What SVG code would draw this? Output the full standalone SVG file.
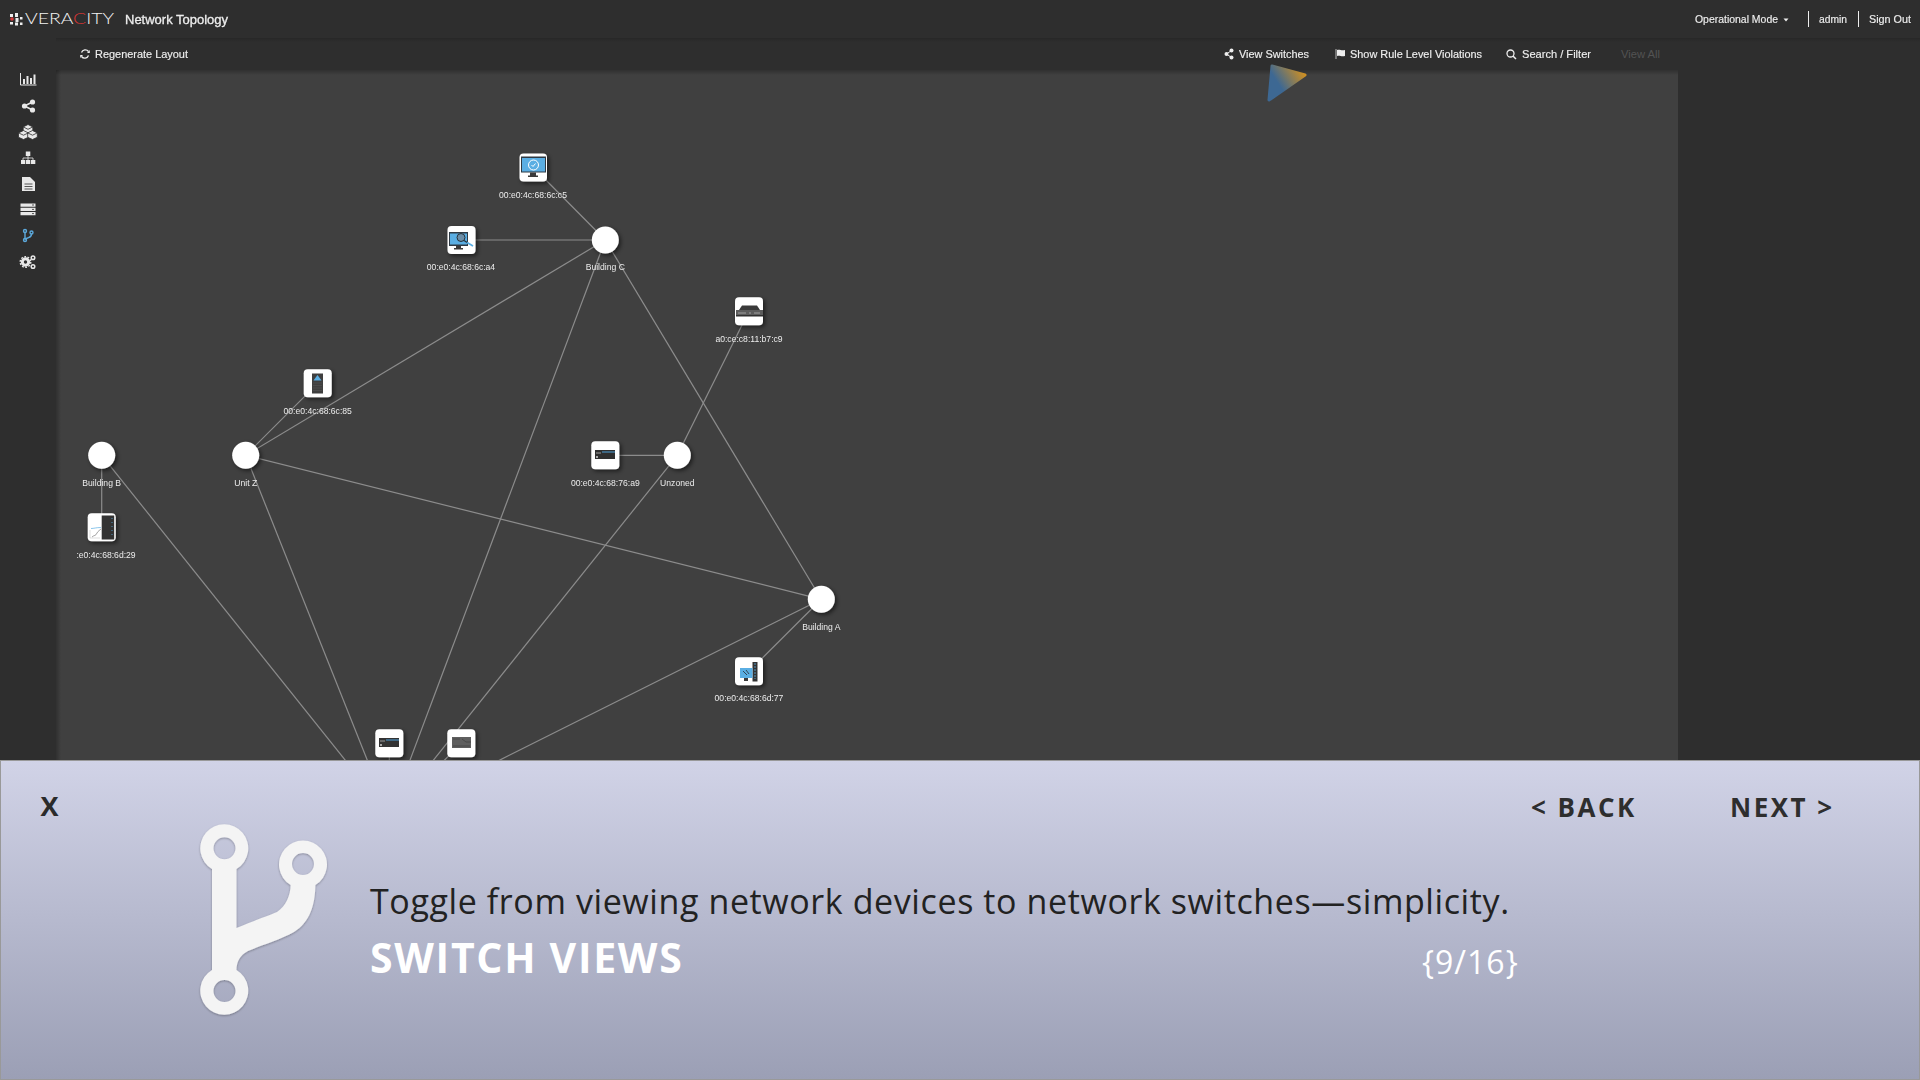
<svg xmlns="http://www.w3.org/2000/svg" width="1920" height="1080" viewBox="0 0 1920 1080">
<style>
.ui{font-family:"Liberation Sans",Arial,sans-serif;fill:#eeeeee;font-size:11px;stroke:#eeeeee;stroke-width:.15;filter:url(#soft)}
.lab{font-family:"Liberation Sans",Arial,sans-serif;fill:#ececec;font-size:8.6px;text-anchor:middle;filter:url(#soft)}
.os{font-family:"Open Sans",sans-serif}
.lk{stroke:#8c8c8c;stroke-width:1.2;fill:none}
.hub{fill:#fff;filter:url(#sh)}
.box{fill:#fff;filter:url(#sh)}
.ic{fill:#e8e8e8}
.dk{fill:#3a3a3a}
.bl{fill:#5aaee3}
</style>
<defs>
<linearGradient id="pg" x1="0" y1="0" x2="0" y2="1"><stop offset="0" stop-color="#d1d3e7"/><stop offset="1" stop-color="#9b9fb5"/></linearGradient>
<linearGradient id="tri" x1="1" y1="0.1" x2="0.2" y2="0.6"><stop offset="0" stop-color="#dc9318"/><stop offset="0.9" stop-color="#3d6893"/></linearGradient>
<linearGradient id="shd" x1="0" y1="0" x2="0" y2="1"><stop offset="0" stop-color="#000" stop-opacity=".25"/><stop offset="1" stop-color="#000" stop-opacity="0"/></linearGradient>
<linearGradient id="shr" x1="0" y1="0" x2="1" y2="0"><stop offset="0" stop-color="#000" stop-opacity=".25"/><stop offset="1" stop-color="#000" stop-opacity="0"/></linearGradient>
<filter id="sh" x="-40%" y="-40%" width="190%" height="190%"><feDropShadow dx="2" dy="2" stdDeviation="2.2" flood-color="#000" flood-opacity=".55"/></filter>
<filter id="sf" x="-10%" y="-10%" width="120%" height="120%"><feDropShadow dx="0" dy="1" stdDeviation="1" flood-color="#000" flood-opacity=".3"/></filter>
<filter id="soft" x="-5%" y="-20%" width="110%" height="140%"><feGaussianBlur stdDeviation=".3"/></filter>
<clipPath id="cv"><rect x="0" y="0" width="1920" height="760"/></clipPath>
</defs>

<rect width="1920" height="1080" fill="#2e2e2e"/>
<rect id="canvas" x="56" y="70" width="1622" height="700" fill="#404040"/>
<rect x="56" y="70" width="5" height="700" fill="url(#shr)"/>
<rect x="56" y="70" width="1622" height="5" fill="url(#shd)"/>
<rect x="56" y="38" width="1864" height="4" fill="url(#shd)" opacity=".6"/>

<g id="topbar">
<g id="logo" fill="#eee">
<rect x="10" y="14" width="3" height="3"/><rect x="15" y="13" width="3" height="4"/><rect x="20" y="17" width="2.5" height="2.5"/>
<circle cx="12" cy="19" r="1.8" fill="#d63a3a"/><rect x="15.5" y="18" width="3" height="4"/><rect x="10" y="22" width="3" height="2.5"/><rect x="15" y="22.5" width="3" height="3"/><rect x="20" y="22.5" width="2.5" height="2.5"/>
</g>
<text x="25" y="24" textLength="89" lengthAdjust="spacingAndGlyphs" style="font-family:Lato,sans-serif;font-weight:300;font-size:16px;fill:#f2f2f2">VERA<tspan fill="#d93535">C</tspan>ITY</text>
<text class="ui" x="125" y="24" textLength="103" lengthAdjust="spacingAndGlyphs" style="font-size:13px;stroke-width:.3">Network Topology</text>
<text class="ui" x="1695" y="23" textLength="83" lengthAdjust="spacingAndGlyphs">Operational Mode</text>
<path d="M1783.500 18.500h5l-2.500 3z" fill="#eee"/>
<path d="M1808.500 11v16M1858.500 11v16" stroke="#eee" stroke-width="1"/>
<text class="ui" x="1819" y="23" textLength="28" lengthAdjust="spacingAndGlyphs">admin</text>
<text class="ui" x="1869" y="23" textLength="42" lengthAdjust="spacingAndGlyphs">Sign Out</text>
</g>

<g id="toolbar">
<path d="M88.500 51.500a4 4 0 0 0-7 1M81.500 56.500a4 4 0 0 0 7-1" fill="none" stroke="#eee" stroke-width="1.300"/>
<path d="M87 53h2.800v-3zM83 55h-2.800v3z" fill="#eee"/>
<text class="ui" x="95" y="58" textLength="93" lengthAdjust="spacingAndGlyphs">Regenerate Layout</text>
<g fill="#eee"><circle cx="1231.500" cy="50.500" r="2"/><circle cx="1231.500" cy="57.500" r="2"/><circle cx="1226.500" cy="54" r="2"/><path d="M1226.500 54L1231.500 50.500M1226.500 54L1231.500 57.500" stroke="#eee"/></g>
<text class="ui" x="1239" y="58" textLength="70" lengthAdjust="spacingAndGlyphs">View Switches</text>
<path d="M1336 49v10" stroke="#bbb" stroke-width="1"/><path d="M1337 50c3-1 4 1 8 0v6c-4 1-5-1-8 0z" fill="#eee"/>
<text class="ui" x="1350" y="58" textLength="132" lengthAdjust="spacingAndGlyphs">Show Rule Level Violations</text>
<circle cx="1510.500" cy="53.500" r="3.500" fill="none" stroke="#eee" stroke-width="1.300"/><path d="M1513 56l3 3" stroke="#eee" stroke-width="1.500"/>
<text class="ui" x="1522" y="58" textLength="69" lengthAdjust="spacingAndGlyphs">Search / Filter</text>
<text x="1621" y="58" textLength="39" lengthAdjust="spacingAndGlyphs" style="font-family:'Liberation Sans',Arial,sans-serif;font-size:11px;fill:#535353">View All</text>
</g>

<g id="sidebar">
<path d="M20.500 73v12h16" fill="none" stroke="#e8e8e8" stroke-width="1"/>
<path class="ic" d="M23 79h2v5h-2zM26.500 76h2v8h-2zM30 78h2v6h-2zM33.500 74.500h2v9.500h-2z"/>
<g class="ic"><circle cx="32.500" cy="102" r="2.600"/><circle cx="32.500" cy="110" r="2.600"/><circle cx="24.500" cy="106" r="2.600"/><path d="M24.500 106L32.500 102M24.500 106L32.500 110" stroke="#e8e8e8" stroke-width="1.500"/></g>
<g fill="#e8e8e8" stroke="#2e2e2e" stroke-width=".8"><path d="M28 124.500l4.800 2.400v4.600L28 134l-4.800-2.500v-4.600z"/><path d="M23.500 130.500l4.800 2.400v4.400l-4.800 2.200-5-2.200v-4.400z"/><path d="M32.500 130.500l4.800 2.400v4.400l-4.800 2.200-4.800-2.200v-4.400z"/><path d="M23.200 126.900L28 129.300l4.800-2.400M18.500 132.900l5 2.300 4.800-2.300M27.700 132.900l4.800 2.300 4.800-2.300" fill="none"/></g>
<path class="ic" d="M25.800 151.500h4.500v4.500h-4.500zM21 164h4.300v-4h-4.300zM26 164h4.300v-4H26zM31 164h4.300v-4H31z"/>
<path d="M23 160v-2h10v2M28 156v4" stroke="#e8e8e8" fill="none" stroke-width=".8"/>
<path class="ic" d="M22 177h8l5 5v9H22z"/><path d="M24.500 184h8M24.500 186.500h8M24.500 189h8" stroke="#2e2e2e" stroke-width=".8"/>
<path class="ic" d="M20.500 203.500h15v3.200h-15zM20.500 207.800h15v3.200h-15zM20.500 212h15v3.200h-15z"/><path d="M32 205h2M32 209.400h2M32 213.600h2" stroke="#2e2e2e" stroke-width=".8"/>
<g id="nav-branch" fill="none" stroke="#5ca9dc" stroke-width="1.400"><circle cx="25" cy="231" r="1.500"/><circle cx="31.500" cy="232.500" r="1.500"/><circle cx="25" cy="240" r="1.500"/><path d="M25 232.500v6M31.500 234c0 2.500-1 3-3 3.700-2 .7-3.500 1-3.500 2"/></g>
<g fill="none" stroke="#e8e8e8"><circle cx="25.500" cy="262" r="3.200" stroke-width="3"/><circle cx="25.500" cy="262" r="5.300" stroke-width="1.400" stroke-dasharray="1.800 1.500"/><circle cx="33" cy="257.800" r="1.800" stroke-width="1.500"/><circle cx="33" cy="266.500" r="1.800" stroke-width="1.500"/></g>
</g>

<polygon id="pointer" points="1272,66 1305,75 1269,100" fill="url(#tri)" stroke="url(#tri)" stroke-width="3" stroke-linejoin="round"/>

<g id="connectors" class="lk" clip-path="url(#cv)">
<line x1="605.300" y1="240" x2="533" y2="167"/>
<line x1="605.300" y1="240" x2="461" y2="240"/>
<line x1="605.300" y1="240" x2="245.700" y2="455.300"/>
<line x1="605.300" y1="240" x2="821.300" y2="599.300"/>
<line x1="605.300" y1="240" x2="389.300" y2="815.300"/>
<line x1="245.700" y1="455.300" x2="317.700" y2="383.300"/>
<line x1="245.700" y1="455.300" x2="821.300" y2="599.300"/>
<line x1="245.700" y1="455.300" x2="389.300" y2="815.300"/>
<line x1="101.700" y1="455.300" x2="101.700" y2="527.300"/>
<line x1="101.700" y1="455.300" x2="389.300" y2="815.300"/>
<line x1="677.300" y1="455.300" x2="605.300" y2="455.300"/>
<line x1="677.300" y1="455.300" x2="749" y2="311"/>
<line x1="677.300" y1="455.300" x2="389.300" y2="815.300"/>
<line x1="821.300" y1="599.300" x2="749" y2="671.300"/>
<line x1="821.300" y1="599.300" x2="389.300" y2="815.300"/>
<line x1="389.300" y1="743.300" x2="389.300" y2="815.300"/>
<line x1="461.300" y1="743.300" x2="389.300" y2="815.300"/>
</g>

<g id="node-c5"><rect class="box" x="519.500" y="153.500" width="27.500" height="28" rx="4"/>
<rect x="521" y="156.500" width="25" height="16" fill="#2f3a44"/><rect x="522" y="158" width="23" height="13.500" class="bl"/>
<path class="dk" d="M530 172.500h6v3h2v1.500h-10v-1.500h2z"/><circle cx="533.500" cy="165" r="5" fill="none" stroke="#fff" stroke-width="1"/><path d="M531.500 165l1.500 1.500 2.500-3" fill="none" stroke="#fff" stroke-width="1"/>
<text class="lab" x="533" y="197.500">00:e0:4c:68:6c:c5</text></g>

<g id="node-a4"><rect class="box" x="447.500" y="226" width="28" height="28" rx="4"/>
<rect x="449" y="232" width="19" height="14" fill="#2f3a44"/><rect x="450" y="233.500" width="17" height="11" class="bl"/><path class="dk" d="M456 246h5v2h2v1.500h-9V248h2z"/>
<circle cx="461" cy="237.500" r="4" fill="#6b8ea8" stroke="#263038"/><path d="M464 240.500l4 2.500" stroke="#263038" stroke-width="1.200"/><path d="M467 242.500l6 3.500" stroke="#5aaee3" stroke-width="1.800"/>
<text class="lab" x="461" y="270">00:e0:4c:68:6c:a4</text></g>

<g id="node-c9"><rect class="box" x="735" y="297.300" width="28" height="28" rx="4"/>
<path class="dk" d="M739 310l3-4.500h15l3 4.500z"/><rect x="736" y="310" width="27" height="6" fill="#5c5c5c"/><path d="M738 313h8M749 313h2M754 313h6" stroke="#bbb" stroke-width=".7"/><rect x="736" y="315" width="27" height="1.500" fill="#2f2f2f"/>
<text class="lab" x="749" y="341.500">a0:ce:c8:11:b7:c9</text></g>

<g id="node-85"><rect class="box" x="303.700" y="369.300" width="28" height="28" rx="4"/>
<rect x="312" y="373.500" width="11" height="20" fill="#3f3f3f"/><path d="M317.500 375l4 5.500h-8z" class="bl"/><path d="M313 383h9M313 385.500h9M313 388h9M313 390.500h9" stroke="#555" stroke-width=".6"/>
<text class="lab" x="317.700" y="413.700">00:e0:4c:68:6c:85</text></g>

<g id="node-29"><rect class="box" x="87.700" y="513.300" width="28" height="28" rx="4"/>
<rect x="101.700" y="515.500" width="12.500" height="24" fill="#333"/><path d="M90 538h10M90 530v8" stroke="#bbb" stroke-width=".5"/><path d="M91 528.500c3 0 5-1 10-1" stroke="#5aaee3" fill="none" stroke-width=".7"/><path d="M92 537c2-2 4-1 5-4 1-2 3-3 4-4" stroke="#666" fill="none" stroke-width=".6"/><path d="M112 518v1M112 522v1M112 526v1M112 530v1M112 534v1" stroke="#5aaee3" stroke-width=".8"/>
<text class="lab" x="106" y="557.700">:e0:4c:68:6d:29</text></g>

<g id="node-a9"><rect class="box" x="591.300" y="441.300" width="28" height="28" rx="4"/>
<rect x="595" y="450" width="20" height="9" fill="#2f2f2f"/><path d="M602 452h13" stroke="#4fa0d8"/><rect x="596" y="452" width="5" height="2" fill="#666"/><rect x="596" y="456" width="2" height="2" fill="#aaa"/>
<text class="lab" x="605.300" y="485.700">00:e0:4c:68:76:a9</text></g>

<g id="node-77"><rect class="box" x="735" y="657.300" width="28" height="28" rx="4"/>
<path d="M752.500 662h5v19.500h-5z" fill="#333"/><path d="M755 663v16" stroke="#5aaee3" stroke-width=".8" stroke-dasharray="2 1"/><rect x="740" y="668" width="12.500" height="10" class="bl"/><path d="M743 671l4 4M746 670l3 4" stroke="#2f3a44" stroke-width=".9"/><rect x="744" y="678" width="4" height="3" fill="#3a3a3a"/>
<text class="lab" x="749" y="701">00:e0:4c:68:6d:77</text></g>

<g id="node-sw1"><rect class="box" x="375.300" y="729.300" width="28" height="28" rx="4"/>
<rect x="379" y="738" width="20" height="9" fill="#333"/><path d="M386 740h13" stroke="#4fa0d8"/><rect x="380" y="740" width="5" height="2" fill="#666"/><rect x="380" y="744" width="2" height="2" fill="#aaa"/></g>

<g id="node-sw2"><rect class="box" x="447.300" y="729.300" width="28" height="28" rx="4"/>
<rect x="452" y="737" width="19" height="11" fill="#5f5f5f"/><path d="M453 739h7M462 739l4 3h5M453 746h17" stroke="#404040" fill="none" stroke-width=".7"/></g>

<g id="node-building-c"><circle class="hub" cx="605.300" cy="240" r="13.500"/><text class="lab" x="605.300" y="270">Building C</text></g>
<g id="node-unit-z"><circle class="hub" cx="245.700" cy="455.300" r="13.500"/><text class="lab" x="245.700" y="486">Unit Z</text></g>
<g id="node-building-b"><circle class="hub" cx="101.700" cy="455.300" r="13.500"/><text class="lab" x="101.700" y="486">Building B</text></g>
<g id="node-unzoned"><circle class="hub" cx="677.300" cy="455.300" r="13.500"/><text class="lab" x="677.300" y="485.700">Unzoned</text></g>
<g id="node-building-a"><circle class="hub" cx="821.300" cy="599.300" r="13.500"/><text class="lab" x="821.300" y="630">Building A</text></g>

<g id="panel">
<rect x="0.500" y="760.500" width="1919" height="319" fill="url(#pg)" stroke="#999" stroke-width="1"/>
<text class="os" x="49.500" y="816" text-anchor="middle" style="font-size:27px;font-weight:700;fill:#2b2b2b">X</text>
<g id="branch-icon" filter="url(#sf)" fill="#f4f4f4" fill-rule="evenodd">
<path d="M212 869A24 24 0 1 1 236.500 869V928C250 922 268 916 277 912 286 906 290.600 895 290.600 885A24 24 0 1 1 315.400 885C315 905 310 922 294 932 282 939 262 945 248 951 240 955 236.500 962 236.500 970A24 24 0 1 1 212 970ZM224.500 837.300A11 11 0 1 0 224.501 859.300 11 11 0 0 0 224.500 837.300ZM303 853A11 11 0 1 0 303.001 875 11 11 0 0 0 303 853ZM224.500 980A11 11 0 1 0 224.501 1002 11 11 0 0 0 224.500 980Z"/>
</g>
<text class="os" x="370" y="914" style="font-size:34px;fill:#222;letter-spacing:.6px">Toggle from viewing network devices to network switches—simplicity.</text>
<text class="os" x="370" y="973" style="font-size:41px;font-weight:700;fill:#fff;letter-spacing:1.700px">SWITCH VIEWS</text>
<text class="os" x="1422" y="974" style="font-size:32px;fill:#fff;letter-spacing:1px">{9/16}</text>
<text class="os" x="1531" y="817" style="font-size:26px;font-weight:700;fill:#2e2e2e;letter-spacing:2.500px">&lt; BACK</text>
<text class="os" x="1730" y="817" style="font-size:26px;font-weight:700;fill:#2e2e2e;letter-spacing:2.500px">NEXT &gt;</text>
</g>
</svg>
